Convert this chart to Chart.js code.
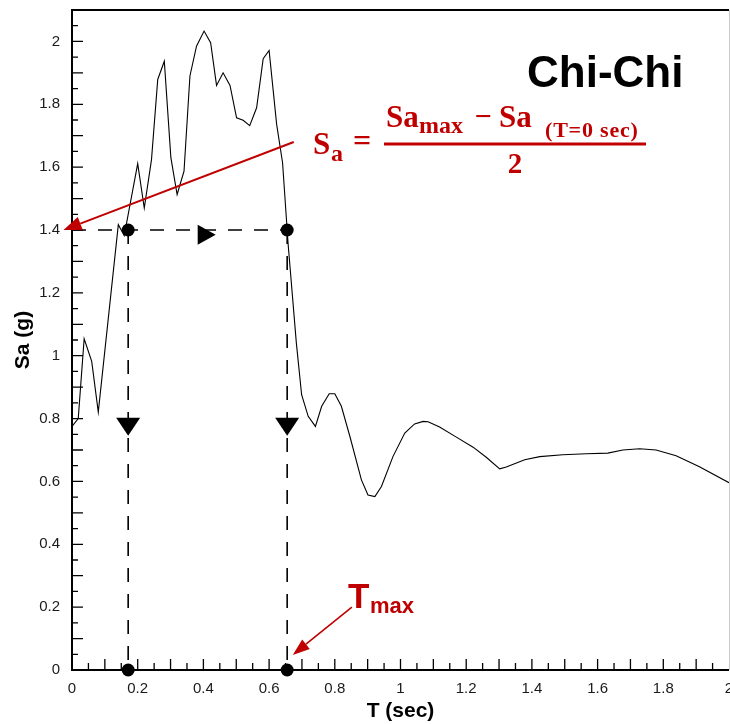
<!DOCTYPE html>
<html>
<head>
<meta charset="utf-8">
<title>Chi-Chi spectrum</title>
<script src="https://cdn.jsdelivr.net/npm/chart.js@4.4.1/dist/chart.umd.min.js"></script>
<style>
  html, body { margin: 0; padding: 0; background: #fff; }
</style>
</head>
<body>
<canvas id="spectrum" width="730" height="724"></canvas>
<script>
// spectral acceleration of the Chi-Chi record
const periods = [0, 0.019, 0.037, 0.06, 0.08, 0.141, 0.159, 0.20, 0.22, 0.242,
  0.261, 0.281, 0.301, 0.32, 0.341, 0.359, 0.379, 0.402, 0.422, 0.44,
  0.46, 0.481, 0.501, 0.521, 0.541, 0.562, 0.582, 0.60, 0.623, 0.641,
  0.655, 0.658, 0.683, 0.699, 0.719, 0.741, 0.76, 0.783, 0.80, 0.82,
  0.846, 0.881, 0.901, 0.922, 0.942, 0.977, 1.013, 1.043, 1.069, 1.084,
  1.119, 1.17, 1.221, 1.261, 1.302, 1.322, 1.378, 1.424, 1.494, 1.566,
  1.631, 1.677, 1.728, 1.778, 1.839, 1.91, 2.0];
const saValues = [0.775, 0.80, 1.054, 0.982, 0.821, 1.417, 1.382, 1.611, 1.47, 1.624,
  1.879, 1.937, 1.63, 1.513, 1.587, 1.89, 1.985, 2.033, 1.996, 1.86,
  1.90, 1.86, 1.757, 1.749, 1.732, 1.789, 1.945, 1.971, 1.736, 1.614,
  1.40, 1.354, 1.04, 0.876, 0.807, 0.775, 0.839, 0.879, 0.879, 0.839,
  0.743, 0.605, 0.557, 0.552, 0.584, 0.679, 0.754, 0.783, 0.791, 0.79,
  0.773, 0.741, 0.709, 0.677, 0.64, 0.646, 0.669, 0.679, 0.685, 0.688,
  0.69, 0.70, 0.704, 0.70, 0.682, 0.647, 0.596];

const xTicks = [0, 0.2, 0.4, 0.6, 0.8, 1, 1.2, 1.4, 1.6, 1.8, 2];
const yTicks = [0, 0.2, 0.4, 0.6, 0.8, 1, 1.2, 1.4, 1.6, 1.8, 2];

// half-amplitude level and the two periods where the spectrum crosses it
const saLevel = 1.4;
const crossPeriods = [0.171, 0.655];
const levelArrowT = 0.41;
const levelArrowSa = 1.385;
const dropArrowSa = 0.774;

const RED = '#c00000';
const SANS = '"Liberation Sans", Arial, sans-serif';
const SERIF = '"Liberation Serif", "Times New Roman", serif';

const curve = periods.map((t, i) => ({ x: t, y: saValues[i] }));
const dash = [14, 12];

const dashed = (pts) => ({
  data: pts, showLine: true, borderColor: '#000', borderWidth: 1.6,
  borderDash: dash, pointRadius: 0, fill: false
});

function arrow(ctx, x1, y1, x2, y2, head, half) {
  const ang = Math.atan2(y2 - y1, x2 - x1);
  const bx = x2 - Math.cos(ang) * head, by = y2 - Math.sin(ang) * head;
  ctx.beginPath();
  ctx.moveTo(x1, y1);
  ctx.lineTo(bx, by);
  ctx.stroke();
  ctx.beginPath();
  ctx.moveTo(x2, y2);
  ctx.lineTo(bx + Math.sin(ang) * half, by - Math.cos(ang) * half);
  ctx.lineTo(bx - Math.sin(ang) * half, by + Math.cos(ang) * half);
  ctx.closePath();
  ctx.fill();
}

// filled isosceles triangle centred on (cx, cy); dir is where the tip points
function triangle(ctx, cx, cy, len, half, dir) {
  const c = Math.cos(dir), s = Math.sin(dir);
  ctx.beginPath();
  ctx.moveTo(cx + c * len / 2, cy + s * len / 2);
  ctx.lineTo(cx - c * len / 2 - s * half, cy - s * len / 2 + c * half);
  ctx.lineTo(cx - c * len / 2 + s * half, cy - s * len / 2 - c * half);
  ctx.closePath();
  ctx.fill();
}

function txt(ctx, s, x, y, font, align) {
  ctx.font = font;
  ctx.textAlign = align || 'left';
  ctx.fillText(s, x, y);
}

// frame and inward tick marks, markers, annotations
const framePlugin = {
  id: 'frame',
  beforeDatasetsDraw(chart) {
    const { ctx, chartArea: a, scales: { x, y } } = chart;
    ctx.save();
    ctx.strokeStyle = '#000';
    ctx.lineWidth = 1.3;
    ctx.beginPath();
    for (let i = 1; i < 40; i++) {
      const px = x.getPixelForValue(i * 0.05);
      const len = i % 2 === 0 ? 11 : 7;
      ctx.moveTo(px, a.bottom);
      ctx.lineTo(px, a.bottom - len);
    }
    for (let i = 1; i <= 41; i++) {
      const py = y.getPixelForValue(i * 0.05);
      const len = i % 2 === 0 ? 11 : 6;
      ctx.moveTo(a.left, py);
      ctx.lineTo(a.left + len, py);
    }
    ctx.stroke();

    ctx.strokeStyle = '#ccc';
    ctx.lineWidth = 1;
    ctx.beginPath();
    ctx.moveTo(a.right + 0.5, a.top);
    ctx.lineTo(a.right + 0.5, a.bottom);
    ctx.stroke();

    ctx.strokeStyle = '#000';
    ctx.lineWidth = 2;
    ctx.beginPath();
    ctx.moveTo(a.right, a.top);
    ctx.lineTo(a.left, a.top);
    ctx.lineTo(a.left, a.bottom);
    ctx.lineTo(a.right, a.bottom);
    ctx.stroke();
    ctx.restore();
  },
  afterDatasetsDraw(chart) {
    const { ctx, scales: { x, y } } = chart;
    ctx.save();
    ctx.fillStyle = '#000';
    crossPeriods.forEach(t => {
      [saLevel, 0].forEach(v => {
        ctx.beginPath();
        ctx.arc(x.getPixelForValue(t), y.getPixelForValue(v), 6.5, 0, 2 * Math.PI);
        ctx.fill();
      });
      triangle(ctx, x.getPixelForValue(t), y.getPixelForValue(dropArrowSa), 18, 12, Math.PI / 2);
    });
    triangle(ctx, x.getPixelForValue(levelArrowT), y.getPixelForValue(levelArrowSa), 18, 10, 0);
    ctx.restore();
  },
  afterDraw(chart) {
    const { ctx, scales: { x, y } } = chart;
    ctx.save();

    ctx.fillStyle = '#000';
    ctx.textBaseline = 'alphabetic';
    txt(ctx, 'Chi-Chi', 527, 87, 'bold 44px ' + SANS);

    // level arrow and its formula
    ctx.strokeStyle = RED;
    ctx.fillStyle = RED;
    ctx.lineWidth = 2;
    arrow(ctx, x.getPixelForValue(0.675), y.getPixelForValue(1.68),
      x.getPixelForValue(-0.026), y.getPixelForValue(saLevel), 18, 7);

    txt(ctx, 'S', 313, 154, 'bold 31px ' + SERIF);
    txt(ctx, 'a', 331, 161, 'bold 24px ' + SERIF);
    ctx.textBaseline = 'middle';
    txt(ctx, '=', 362, 143, 'bold 32px ' + SERIF, 'center');
    txt(ctx, '\u2212', 483, 118, 'bold 30px ' + SERIF, 'center');
    ctx.textBaseline = 'alphabetic';
    ctx.fillRect(384, 142.5, 262, 3);
    txt(ctx, 'Sa', 386, 127, 'bold 31px ' + SERIF);
    txt(ctx, 'max', 419, 133, 'bold 24px ' + SERIF);
    txt(ctx, 'Sa', 499, 127, 'bold 31px ' + SERIF);
    ctx.letterSpacing = '0.8px';
    txt(ctx, '(T=0 sec)', 545, 137, 'bold 22px ' + SERIF);
    ctx.letterSpacing = '0px';
    txt(ctx, '2', 515, 173, 'bold 29px ' + SERIF, 'center');

    // period label
    txt(ctx, 'T', 348, 608, 'bold 35px ' + SANS);
    txt(ctx, 'max', 370, 613, 'bold 22px ' + SANS);
    ctx.lineWidth = 1.6;
    arrow(ctx, x.getPixelForValue(0.852), y.getPixelForValue(0.20),
      x.getPixelForValue(0.672), y.getPixelForValue(0.048), 17, 6);

    ctx.restore();
  }
};

new Chart(document.getElementById('spectrum'), {
  type: 'scatter',
  data: {
    datasets: [
      dashed([{ x: 0, y: saLevel }, { x: crossPeriods[1], y: saLevel }]),
      dashed([{ x: crossPeriods[0], y: saLevel }, { x: crossPeriods[0], y: 0 }]),
      dashed([{ x: crossPeriods[1], y: saLevel }, { x: crossPeriods[1], y: 0 }]),
      {
        data: curve, showLine: true, borderColor: '#000', borderWidth: 1.1,
        pointRadius: 0, fill: false
      }
    ]
  },
  options: {
    responsive: false,
    animation: false,
    devicePixelRatio: 1,
    layout: { padding: { top: 10, right: 1, left: 0, bottom: 0 } },
    plugins: { legend: { display: false }, tooltip: { enabled: false } },
    scales: {
      x: {
        type: 'linear', min: 0, max: 2,
        afterBuildTicks: s => { s.ticks = xTicks.map(v => ({ value: v })); },
        afterFit: s => { s.height = 54; s.paddingLeft = 0; s.paddingRight = 0; },
        grid: { display: false, drawTicks: false },
        border: { display: false },
        ticks: {
          padding: 10, maxRotation: 0, autoSkip: false, color: '#1a1a1a',
          font: { family: SANS, size: 15 }, callback: v => String(v)
        },
        title: {
          display: true, text: 'T (sec)', color: '#000',
          font: { family: SANS, size: 21, weight: 'bold' }, padding: { top: 0, bottom: 0 }
        }
      },
      y: {
        type: 'linear', min: 0, max: 2.1,
        afterBuildTicks: s => { s.ticks = yTicks.map(v => ({ value: v })); },
        afterFit: s => { s.width = 72; s.paddingTop = 0; s.paddingBottom = 0; },
        grid: { display: false, drawTicks: false },
        border: { display: false },
        ticks: {
          padding: 12, color: '#1a1a1a',
          font: { family: SANS, size: 15 }, callback: v => String(v)
        },
        title: {
          display: true, text: 'Sa (g)', color: '#000',
          font: { family: SANS, size: 21, weight: 'bold' }, padding: { top: 11, bottom: 0 }
        }
      }
    }
  },
  plugins: [framePlugin]
});
</script>
</body>
</html>
